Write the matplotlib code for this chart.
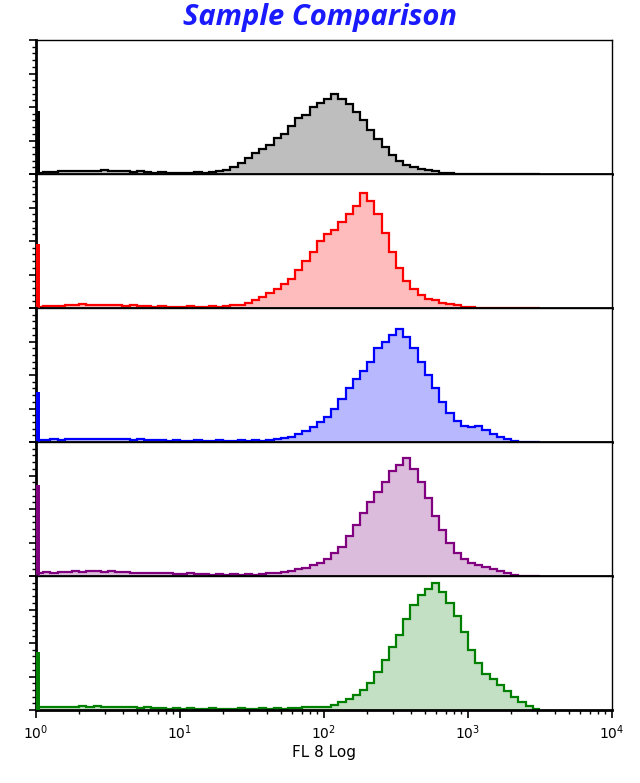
import numpy as np
import matplotlib
matplotlib.use("Agg")
import matplotlib.pyplot as plt
from matplotlib.ticker import LogLocator, MultipleLocator, NullFormatter

# bins in log10 units, width 0.05, starting at 0
edges_log = np.arange(0, 3.5001, 0.05)

colors = ["black", "red", "blue", "purple", "green"]
fills = ["#bebebe", "#ffbcbc", "#b8b8ff", "#dcbcdc", "#c4e0c4"]
spikes = [0.47, 0.48, 0.37, 0.68, 0.43]

black = [0.01,0.015,0.015,0.02,0.02,0.02, 0.025,0.02,0.025,0.03,0.025,0.02,
         0.02,0.015,0.02,0.015,0.01,0.015,0.01,0.01, 0.01,0.01,0.015,0.01,0.015,0.02,
         0.03,0.05,0.08,0.12,0.16,0.19,0.22,0.27,0.30,0.36,0.42,0.44,0.50,0.53,0.56,0.60,
         0.56,0.52,0.46,0.40,0.33,0.26,0.20,0.14,0.10,0.07,0.05,0.04,0.03,0.02,0.01,0.005,
         0,0,0,0,0,0,0,0,0,0,0,0]
red = [0.01,0.012,0.015,0.015,0.02,0.02, 0.03,0.025,0.02,0.02,0.025,0.02,
       0.015,0.02,0.015,0.015,0.01,0.015,0.01,0.01, 0.01,0.015,0.01,0.01,0.015,0.01,
       0.015,0.02,0.025,0.04,0.06,0.08,0.11,0.14,0.18,0.22,0.28,0.35,0.42,0.50,0.55,0.58,
       0.64,0.70,0.76,0.86,0.80,0.70,0.56,0.42,0.30,0.20,0.14,0.10,0.07,0.06,0.04,0.03,
       0.02,0.01,0.005,0,0,0,0,0,0,0,0,0]
blue = [0.015,0.015,0.02,0.015,0.02,0.02, 0.02,0.025,0.02,0.02,0.025,0.02,
        0.02,0.015,0.02,0.015,0.015,0.015,0.01,0.015, 0.01,0.01,0.015,0.01,0.01,0.015,
        0.01,0.01,0.015,0.01,0.015,0.01,0.015,0.02,0.03,0.04,0.06,0.08,0.11,0.15,0.19,0.25,
        0.32,0.40,0.47,0.53,0.60,0.70,0.75,0.80,0.84,0.78,0.70,0.60,0.50,0.40,0.30,0.22,
        0.16,0.12,0.11,0.12,0.09,0.06,0.04,0.02,0.01,0,0,0]
purple = [0.02,0.03,0.025,0.03,0.03,0.035, 0.03,0.04,0.035,0.03,0.035,0.03,
          0.03,0.025,0.025,0.02,0.025,0.02,0.02,0.015, 0.015,0.02,0.015,0.015,0.01,0.015,
          0.01,0.015,0.01,0.015,0.01,0.015,0.02,0.02,0.03,0.04,0.05,0.06,0.08,0.10,0.13,0.17,
          0.22,0.30,0.38,0.47,0.55,0.63,0.70,0.78,0.83,0.88,0.80,0.70,0.58,0.45,0.34,0.25,
          0.17,0.13,0.10,0.08,0.07,0.05,0.04,0.02,0.01,0,0,0]
green = [0.02,0.02,0.025,0.02,0.025,0.02, 0.03,0.025,0.03,0.025,0.02,0.025,
         0.02,0.02,0.015,0.02,0.015,0.015,0.01,0.015, 0.01,0.015,0.01,0.01,0.015,0.01,
         0.01,0.01,0.015,0.01,0.01,0.015,0.01,0.015,0.01,0.015,0.015,0.02,0.02,0.02,0.025,0.04,
         0.06,0.08,0.11,0.15,0.20,0.28,0.37,0.47,0.56,0.68,0.78,0.86,0.90,0.95,0.88,0.80,
         0.70,0.58,0.45,0.35,0.27,0.23,0.19,0.14,0.10,0.06,0.03,0.01]
series = [black, red, blue, purple, green]

fig = plt.figure(figsize=(6.4, 7.83), dpi=100)
W, H = 640, 783
left, right = 36 / W, 612 / W
top_px, bot_px = 40, 710
ph = (bot_px - top_px) / 5
edges = 10 ** edges_log
for i, vals in enumerate(series):
    y0 = 1 - (top_px + (i + 1) * ph) / H
    ax = fig.add_axes([left, y0, right - left, ph / H])
    v = np.array(vals, dtype=float)
    ax.stairs(v, edges, fill=True, color=fills[i], lw=0)
    ax.stairs(v, edges, color=colors[i], lw=1.6, baseline=None)
    ax.bar(1.0, spikes[i], width=0.06, align="edge", color=colors[i], lw=0,
           zorder=5, clip_on=False)
    ax.set_xscale("log")
    ax.set_xlim(1, 1e4)
    ax.set_ylim(0, 1)
    for s in ax.spines.values():
        s.set_linewidth(1.0)
    ax.spines["bottom"].set_linewidth(2.0)
    ax.spines["left"].set_linewidth(2.0)
    ax.yaxis.set_major_locator(MultipleLocator(0.25))
    ax.yaxis.set_minor_locator(MultipleLocator(0.05))
    ax.yaxis.set_major_formatter(NullFormatter())
    ax.tick_params(axis="y", which="major", length=5, width=1.2)
    ax.tick_params(axis="y", which="minor", length=3, width=1)
    ax.xaxis.set_major_locator(LogLocator(base=10, numticks=10))
    ax.xaxis.set_minor_locator(LogLocator(base=10, subs=np.arange(2, 10), numticks=20))
    if i < 4:
        ax.tick_params(axis="x", which="both", bottom=False, labelbottom=False)
    else:
        ax.tick_params(axis="x", which="major", length=6, width=1.2, labelsize=10)
        ax.tick_params(axis="x", which="minor", length=3, width=1)
        ax.set_xlabel("FL 8 Log", fontsize=11, labelpad=2)

fig.text(0.5, 1 - 17 / H, "Sample Comparison", ha="center", va="center",
         color="#1a1aff", fontsize=21, fontstyle="italic", fontweight="bold",
         family=["Open Sans", "DejaVu Sans"])
fig.savefig("out.png", dpi=100)
